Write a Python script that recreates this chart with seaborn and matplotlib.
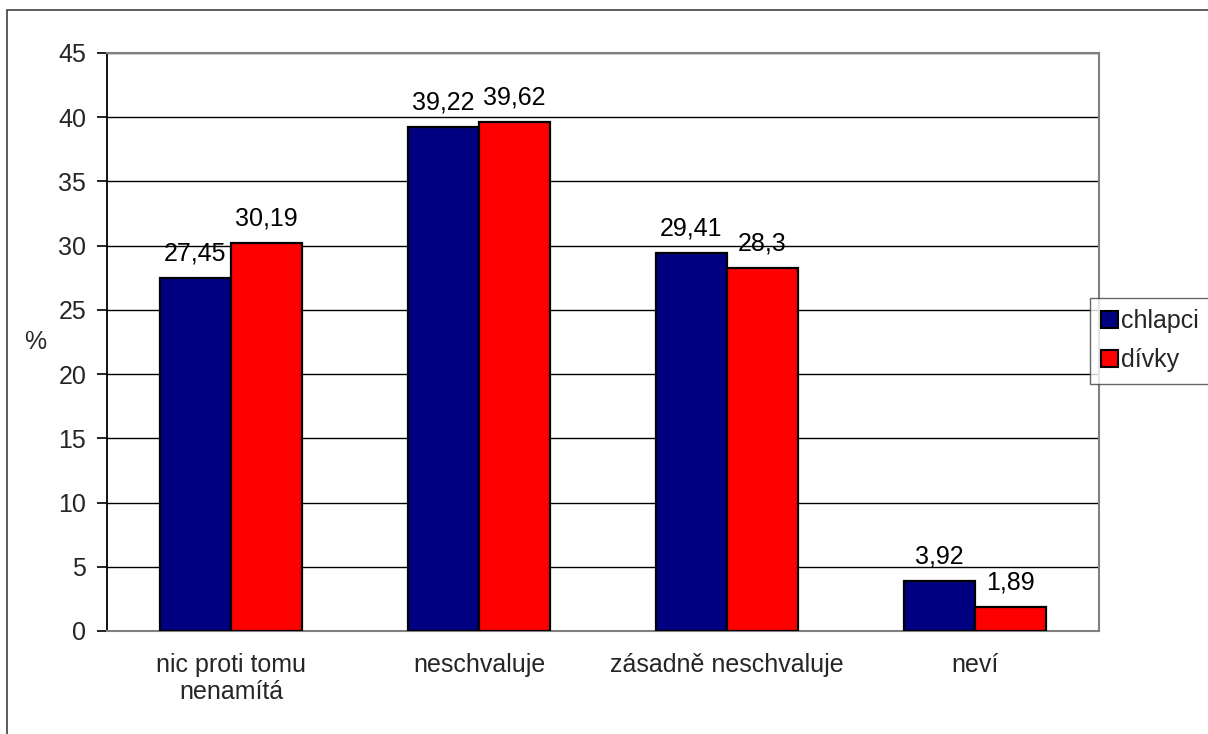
import matplotlib
matplotlib.use("Agg")
import matplotlib.pyplot as plt
import matplotlib.patches as mpatches
import numpy as np
import pandas as pd
import seaborn as sns

categories = ["nic proti tomu\nnenamítá", "neschvaluje", "zásadně neschvaluje", "neví"]
chlapci = [27.45, 39.22, 29.41, 3.92]
divky = [30.19, 39.62, 28.3, 1.89]
series = ["chlapci", "dívky"]
colors = ["#000080", "#FF0000"]
y_ticks = [0, 5, 10, 15, 20, 25, 30, 35, 40, 45]

df = pd.DataFrame({
    "kategorie": categories * 2,
    "hodnota": chlapci + divky,
    "skupina": [series[0]] * len(categories) + [series[1]] * len(categories),
})

sns.set_theme(style="white")
plt.rcParams["font.family"] = ["Liberation Sans", "DejaVu Sans"]
FS = 18

fig = plt.figure(figsize=(12.08, 7.34), dpi=100)
ax = fig.add_axes([107 / 1208, 1 - 631 / 734, (1099 - 107) / 1208, (631 - 53) / 734])

sns.barplot(data=df, x="kategorie", y="hodnota", hue="skupina", order=categories,
            hue_order=series, palette=colors, width=0.573, edgecolor="black",
            linewidth=1.6, saturation=1, ax=ax, legend=False, zorder=3)

for cont in ax.containers:
    labels = [f"{b.get_height():g}".replace(".", ",") for b in cont]
    ax.bar_label(cont, labels=labels, padding=9, fontsize=FS, color="black")

ax.set_ylim(0, 45)
ax.set_xlim(-0.5, len(categories) - 0.5)
ax.set_yticks(y_ticks)
ax.set_yticklabels([str(t) for t in y_ticks], fontsize=FS)
ax.yaxis.grid(True, color="black", linewidth=1.0, zorder=0)
ax.set_axisbelow(True)

ax.set_xticks(range(len(categories)))
ax.set_xticklabels(categories, fontsize=FS, linespacing=1.15)
ax.set_xticks(np.arange(-0.5, len(categories), 1.0), minor=True)
ax.tick_params(axis="x", which="major", length=0, pad=16)
ax.tick_params(axis="x", which="minor", length=7, width=1.2, color="#808080", direction="out")
ax.tick_params(axis="y", length=7, width=1.2, color="black", direction="out", pad=8, left=True)

ax.set_xlabel("")
ax.set_ylabel("%", fontsize=FS, rotation=0, va="center", ha="center")
ax.yaxis.set_label_coords(-0.072, 0.5)

for side in ["top", "right", "bottom"]:
    ax.spines[side].set_visible(True)
    ax.spines[side].set_color("#808080")
    ax.spines[side].set_linewidth(1.5)
ax.spines["left"].set_color("black")
ax.spines["left"].set_linewidth(1.3)

handles = [mpatches.Patch(facecolor=c, edgecolor="black", linewidth=1.5) for c in colors]
leg = fig.legend(handles, series, loc="upper left", bbox_to_anchor=(1090 / 1208, 1 - 298 / 734),
                 fontsize=FS, frameon=True, fancybox=False, shadow=False,
                 handlelength=0.65, handleheight=0.65, handletextpad=0.15,
                 labelspacing=0.6, borderpad=0.45, borderaxespad=0)
leg.get_frame().set_edgecolor("#404040")
leg.get_frame().set_linewidth(1.0)

# outer chart frame
fig.patches.append(mpatches.Rectangle((7 / 1208, -0.1), 1.2, 1 - 10 / 734 + 0.1,
                                      transform=fig.transFigure, fill=False,
                                      edgecolor="#404040", linewidth=1.2))

fig.savefig("out.png", dpi=100, facecolor="white")
